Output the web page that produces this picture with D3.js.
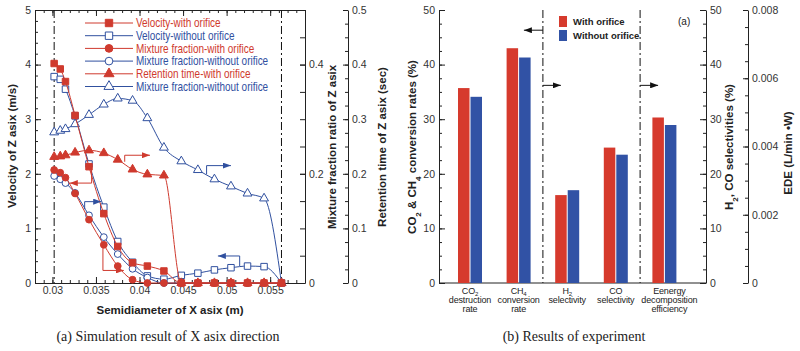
<!DOCTYPE html>
<html>
<head>
<meta charset="utf-8">
<script src="https://cdn.jsdelivr.net/npm/d3@7"></script>
<style>
body { margin: 0; background: #fff; }
svg { display: block; font-family: "Liberation Sans", Arial, sans-serif; }
</style>
</head>
<body>
<svg id="chart" width="800" height="351"></svg>
<script>
// ---------- (a) simulation data ----------
const xPos = [0.0302, 0.0309, 0.0315, 0.0326, 0.0342, 0.0359, 0.0375, 0.0392, 0.0409,
              0.0428, 0.0448, 0.0467, 0.0486, 0.0505, 0.0524, 0.0543, 0.0563];
const velWith    = [4.02, 3.92, 3.69, 3.07, 2.13, 1.27, 0.67, 0.37, 0.31, 0.22, 0, 0, 0, 0, 0, 0, 0];
const velWithout = [3.78, 3.73, 3.55, 3.06, 2.18, 1.39, 0.76, 0.38, 0.13, 0.07, 0.14, 0.18, 0.24, 0.28, 0.31, 0.30, 0];
const mixWith    = [0.207, 0.202, 0.193, 0.164, 0.116, 0.070, 0.031, 0.006, 0, 0, 0, 0, 0, 0, 0, 0, 0];
const mixWithout = [0.196, 0.190, 0.183, 0.165, 0.124, 0.084, 0.053, 0.026, 0.010, 0, 0, 0, 0, 0, 0, 0, 0];
const retWith    = [0.231, 0.232, 0.234, 0.239, 0.243, 0.238, 0.226, 0.208, 0.199, 0.197, 0, 0, 0, 0, 0, 0, 0];
const retWithout = [0.276, 0.279, 0.282, 0.291, 0.308, 0.327, 0.338, 0.334, 0.302, 0.248, 0.223, 0.207, 0.190, 0.177, 0.164, 0.155, 0];

const xTicksA = [0.03, 0.035, 0.04, 0.045, 0.05, 0.055];
const boundaryA = [0.0302, 0.0563];

// ---------- (b) experiment data ----------
const barCats = ["co2", "ch4", "h2", "co", "ede"];
const catLabels = [["CO_2", "destruction", "rate"], ["CH_4", "conversion", "rate"], ["H_2", "selectivity"],
                   ["CO", "selectivity"], ["Eenergy", "decomposition", "efficiency"]];
const catLabelDx = [0, 0, 0, 0, 5];
const barAxisOf = ["conv", "conv", "sel", "sel", "ede"];
const withOrifice    = [35.7, 43.0, 16.1, 24.8, 0.00485];
const withoutOrifice = [34.1, 41.3, 17.0, 23.5, 0.00463];
const barSeries = ["With orifice", "Without orifice"];

const red = "#cf3a2e", blue = "#30509f";
const barRed = "#d63a2d", barBlue = "#3152a5";
const ink = "#222", tickInk = "#333";

const svg = d3.select("#chart");

const defs = svg.append("defs");
function arrowMarker(id, color) {
    defs.append("marker").attr("id", id)
        .attr("viewBox", "0 0 8 6").attr("refX", 8).attr("refY", 3)
        .attr("markerWidth", 8).attr("markerHeight", 6)
        .attr("markerUnits", "userSpaceOnUse").attr("orient", "auto")
        .append("path").attr("d", "M0,0L8,3L0,6Z").attr("fill", color);
}
arrowMarker("arrRed", red);
arrowMarker("arrBlue", blue);
arrowMarker("arrBlack", "#111");

// axis with major + minor ticks
function drawAxis(parent, make, scale, tx, ty, major, minor, majorSize, minorSize, fmt) {
    const g = parent.append("g").attr("transform", `translate(${tx},${ty})`);
    if (minor) {
        const m = g.append("g").call(make(scale).tickValues(minor).tickSizeInner(minorSize).tickSizeOuter(0).tickFormat(""));
        m.select(".domain").remove();
    }
    g.append("g").call(make(scale).tickValues(major).tickSizeInner(majorSize).tickSizeOuter(0)
        .tickPadding(4).tickFormat(fmt));
    g.selectAll("line, path").attr("stroke", ink);
    g.selectAll("text").attr("fill", tickInk).style("font-size", "10.5px");
    return g;
}
function range(a, b, s) {
    const out = [];
    for (let v = a; v <= b + s / 1000; v += s) out.push(+v.toFixed(6));
    return out;
}

// =============== PANEL (a) ===============
const xA = d3.scaleLinear().domain([0.028, 0.059]).range([35, 305]);
const yVel = d3.scaleLinear().domain([0, 5]).range([283, 10]);
const yMix = d3.scaleLinear().domain([0, 0.5]).range([283, 10]);
const yRet = d3.scaleLinear().domain([0, 0.5]).range([283, 10]);
const scaleOf = {vel: yVel, mix: yMix, ret: yRet};

const gA = svg.append("g");

drawAxis(gA, d3.axisLeft, yVel, 35, 0, range(0, 5, 1), range(0, 5, 0.2), -6, -3, d3.format("d"));
drawAxis(gA, d3.axisBottom, xA, 0, 283, xTicksA, range(0.028, 0.059, 0.001), -6, -3, d => String(+d.toFixed(3)));
drawAxis(gA, d3.axisTop, xA, 0, 10, xTicksA, range(0.028, 0.059, 0.001), -6, -3, "");
drawAxis(gA, d3.axisRight, yMix, 305, 0, [0, 0.2, 0.4], range(0, 0.5, 0.05), -5, -5,
    d => d === 0 ? "0" : d3.format(".1f")(d));
drawAxis(gA, d3.axisRight, yRet, 348, 0, range(0, 0.5, 0.1), range(0, 0.5, 0.025), -5, -3,
    d => d === 0 ? "0" : d3.format(".1f")(d));

// boundary dash-dot lines
gA.selectAll(".bnd").data(boundaryA).enter().append("line")
    .attr("x1", d => xA(d)).attr("x2", d => xA(d))
    .attr("y1", yVel(5)).attr("y2", yVel(0))
    .attr("stroke", "#111").attr("stroke-width", 1).attr("stroke-dasharray", "8,3,2,3");

const seriesA = [
    {name: "Velocity-with orifice", vals: velWith, sc: "vel", color: red, shape: "square", filled: true},
    {name: "Velocity-without orifice", vals: velWithout, sc: "vel", color: blue, shape: "square", filled: false},
    {name: "Mixture fraction-with orifice", vals: mixWith, sc: "mix", color: red, shape: "circle", filled: true},
    {name: "Mixture fraction-without orifice", vals: mixWithout, sc: "mix", color: blue, shape: "circle", filled: false},
    {name: "Retention time-with orifice", vals: retWith, sc: "ret", color: red, shape: "triangle", filled: true},
    {name: "Mixture fraction-without orifice", vals: retWithout, sc: "ret", color: blue, shape: "triangle", filled: false}
];

const symOf = {square: d3.symbolSquare, circle: d3.symbolCircle, triangle: d3.symbolTriangle};
const sizeOf = {square: 42, circle: 36, triangle: 34};

// open (blue) series first, filled (red) series on top
const drawOrder = seriesA.filter(s => !s.filled).concat(seriesA.filter(s => s.filled));
drawOrder.forEach(s => {
    const ys = scaleOf[s.sc];
    const pts = xPos.map((x, i) => [x, s.vals[i]]);
    const line = d3.line().x(d => xA(d[0])).y(d => ys(d[1])).curve(d3.curveMonotoneX);
    gA.append("path").datum(pts).attr("d", line)
        .attr("fill", "none").attr("stroke", s.color).attr("stroke-width", 1);
    gA.append("g").selectAll("path").data(pts).enter().append("path")
        .attr("transform", d => `translate(${xA(d[0])},${ys(d[1])})`)
        .attr("d", d3.symbol().type(symOf[s.shape]).size(sizeOf[s.shape]))
        .attr("fill", s.filled ? s.color : "#fff")
        .attr("stroke", s.color).attr("stroke-width", 1);
});

// annotation arrows (data coords on velocity scale)
const arrowsA = [
    {c: "red", pts: [[0.0383, 2.22], [0.0383, 2.34], [0.0412, 2.34]]},
    {c: "red", pts: [[0.0345, 2.07], [0.0345, 1.83], [0.0320, 1.83]]},
    {c: "red", pts: [[0.0358, 0.71], [0.0358, 0.23], [0.0382, 0.23]]},
    {c: "blue", pts: [[0.0337, 1.35], [0.0337, 1.49], [0.0356, 1.49]]},
    {c: "blue", pts: [[0.0477, 1.99], [0.0477, 2.15], [0.0505, 2.15]]},
    {c: "blue", pts: [[0.0515, 0.31], [0.0515, 0.495], [0.0490, 0.495]]}
];
arrowsA.forEach(a => {
    gA.append("path").datum(a.pts)
        .attr("d", d3.line().x(d => xA(d[0])).y(d => yVel(d[1])))
        .attr("fill", "none").attr("stroke", a.c === "red" ? red : blue).attr("stroke-width", 1)
        .attr("marker-end", a.c === "red" ? "url(#arrRed)" : "url(#arrBlue)");
});

// legend (a) - condensed text like the original
const legA = gA.append("g").attr("transform", "translate(85,23)");
seriesA.forEach((s, i) => {
    const row = legA.append("g").attr("transform", `translate(0,${i * 12.7})`);
    row.append("line").attr("x1", 0).attr("x2", 48).attr("stroke", s.color).attr("stroke-width", 1);
    row.append("path").attr("transform", "translate(24,0)")
        .attr("d", d3.symbol().type(symOf[s.shape]).size(sizeOf[s.shape] * 1.3))
        .attr("fill", s.filled ? s.color : "#fff").attr("stroke", s.color);
    row.append("text").attr("transform", "translate(51,4.2) scale(0.83,1)").text(s.name)
        .attr("fill", s.color).style("font-size", "12px");
});

// axis titles (a)
function vTitle(parent, x, y, txt) {
    return parent.append("text").attr("transform", `translate(${x},${y}) rotate(-90)`)
        .attr("text-anchor", "middle").attr("fill", ink)
        .style("font-size", "11.5px").style("font-weight", "bold").text(txt);
}
vTitle(gA, 16, 146, "Velocity of Z asix (m/s)");
vTitle(gA, 336, 147, "Mixture fraction ratio of Z asix");
vTitle(gA, 386, 147, "Retention time of Z asix (sec)");
gA.append("text").attr("x", 170).attr("y", 314).attr("text-anchor", "middle")
    .attr("fill", ink).style("font-size", "11.5px").style("font-weight", "bold")
    .text("Semidiameter of X asix (m)");

// =============== PANEL (b) ===============
const xB = d3.scaleBand().domain(barCats).range([445.7, 688.7]);
const xSub = d3.scaleBand().domain(barSeries).range([-12, 12]).paddingInner(0.08);
const yConv = d3.scaleLinear().domain([0, 50]).range([283, 10]);
const ySel = d3.scaleLinear().domain([0, 50]).range([283, 10]);
const yEde = d3.scaleLinear().domain([0, 0.008]).range([283, 10]);
const barScale = {conv: yConv, sel: ySel, ede: yEde};

const gB = svg.append("g");

drawAxis(gB, d3.axisLeft, yConv, 439, 0, range(0, 50, 10), range(0, 50, 2.5), -6, -3, d3.format("d"));
drawAxis(gB, d3.axisRight, ySel, 706, 0, range(0, 50, 10), range(0, 50, 2.5), -6, -3, d3.format("d"));
drawAxis(gB, d3.axisRight, yEde, 748, 0, range(0, 0.008, 0.002), range(0, 0.008, 0.0005), -5, -3,
    d => d === 0 ? "0" : d3.format(".3f")(d));
gB.append("line").attr("x1", 439).attr("x2", 706).attr("y1", yConv(0)).attr("y2", yConv(0)).attr("stroke", ink);

// separators between left-axis and right-axis groups
const seps = [xB("h2"), xB("ede")];
gB.selectAll(".sep").data(seps).enter().append("line")
    .attr("x1", d => d).attr("x2", d => d).attr("y1", yConv(50)).attr("y2", yConv(0))
    .attr("stroke", "#111").attr("stroke-dasharray", "8,3,2,3");

// bars
const barData = [];
barCats.forEach((c, i) => {
    barData.push({cat: c, s: barSeries[0], v: withOrifice[i], sc: barScale[barAxisOf[i]], fill: barRed});
    barData.push({cat: c, s: barSeries[1], v: withoutOrifice[i], sc: barScale[barAxisOf[i]], fill: barBlue});
});
gB.append("g").selectAll("rect").data(barData).enter().append("rect")
    .attr("x", d => xB(d.cat) + xB.bandwidth() / 2 + xSub(d.s))
    .attr("width", xSub.bandwidth())
    .attr("y", d => d.sc(d.v))
    .attr("height", d => d.sc(0) - d.sc(d.v))
    .attr("fill", d => d.fill);

// arrows (b)
const arrY = [46.3, 36.2, 36.2];
const arrowsB = [
    {x0: seps[0], dx: -19, y: arrY[0]},
    {x0: seps[0], dx: 18, y: arrY[1]},
    {x0: seps[1], dx: 18, y: arrY[2]}
];
arrowsB.forEach(a => {
    gB.append("line").attr("x1", a.x0).attr("x2", a.x0 + a.dx)
        .attr("y1", yConv(a.y)).attr("y2", yConv(a.y))
        .attr("stroke", "#111").attr("marker-end", "url(#arrBlack)");
});

// category labels with subscripts
function subText(sel, str) {
    const parts = str.split("_");
    sel.append("tspan").text(parts[0]);
    if (parts.length > 1) {
        sel.append("tspan").attr("dy", 1.5).style("font-size", "6px").text(parts[1]);
    }
}
barCats.forEach((c, i) => {
    const t = gB.append("text").attr("text-anchor", "middle").attr("fill", ink)
        .style("font-size", "9px").style("letter-spacing", "-0.15px");
    catLabels[i].forEach((ln, j) => {
        const ts = t.append("tspan").attr("x", xB(c) + xB.bandwidth() / 2 + catLabelDx[i]).attr("y", 294 + j * 9);
        subText(ts, ln);
    });
});

// legend (b)
const legB = gB.append("g").attr("transform", "translate(559,16)");
barSeries.forEach((s, i) => {
    legB.append("rect").attr("x", 0).attr("y", i * 14).attr("width", 8).attr("height", 11)
        .attr("fill", i === 0 ? barRed : barBlue);
    legB.append("text").attr("x", 14).attr("y", i * 14 + 9).text(s)
        .attr("fill", ink).style("font-size", "9.5px").style("font-weight", "bold");
});
gB.append("text").attr("x", 678).attr("y", 25).text("(a)").attr("fill", ink).style("font-size", "10px");

// axis titles (b) with subscripts
function vTitleSub(parent, x, y, pieces) {
    const t = parent.append("text").attr("transform", `translate(${x},${y}) rotate(-90)`)
        .attr("text-anchor", "middle").attr("fill", ink)
        .style("font-size", "11.5px").style("font-weight", "bold");
    pieces.forEach(p => {
        if (p.sub) t.append("tspan").attr("baseline-shift", "sub").style("font-size", "8px").text(p.t);
        else t.append("tspan").attr("baseline-shift", "0").text(p.t);
    });
}
vTitleSub(gB, 416, 147, [{t: "CO"}, {t: "2", sub: true}, {t: " & CH"}, {t: "4", sub: true}, {t: " conversion rates (%)"}]);
vTitleSub(gB, 733, 147, [{t: "H"}, {t: "2", sub: true}, {t: ", CO selectivities (%)"}]);
vTitleSub(gB, 792, 153, [{t: "EDE (L/min \u2022W)"}]);

// captions
const captions = [{x: 168, t: "(a) Simulation result of X asix direction"}, {x: 574, t: "(b) Results of experiment"}];
svg.selectAll(".cap").data(captions).enter().append("text")
    .attr("x", d => d.x).attr("y", 341).attr("text-anchor", "middle")
    .attr("fill", ink).style("font-family", '"Liberation Serif", "Times New Roman", serif')
    .style("font-size", "14px").text(d => d.t);
</script>
</body>
</html>
